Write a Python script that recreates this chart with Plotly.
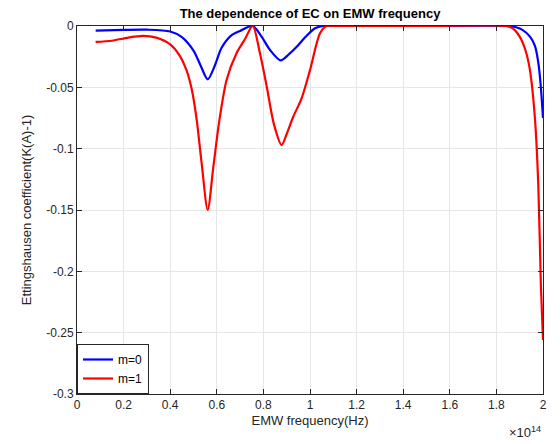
import plotly.graph_objects as go

# frequency in units of 1e14 Hz
x_m0 = [0.08, 0.2, 0.3, 0.4, 0.45, 0.5, 0.53, 0.561, 0.59, 0.62, 0.66, 0.7, 0.754, 0.79, 0.83, 0.874, 0.91, 0.943, 0.98, 1.02, 1.056, 1.1, 1.5, 1.85, 1.88, 1.91, 1.944, 1.965, 1.98, 1.99, 2.0]
y_m0 = [-0.0038, -0.0032, -0.003, -0.0045, -0.009, -0.02, -0.032, -0.0435, -0.033, -0.018, -0.008, -0.004, 0.0, -0.008, -0.02, -0.028, -0.023, -0.017, -0.009, -0.002, 0.0, 0.0, 0.0, 0.0, -0.0008, -0.003, -0.0087, -0.016, -0.03, -0.048, -0.075]

x_m1 = [0.08, 0.15, 0.22, 0.283, 0.34, 0.4, 0.44, 0.47, 0.494, 0.514, 0.535, 0.561, 0.585, 0.611, 0.642, 0.685, 0.72, 0.754, 0.785, 0.814, 0.845, 0.878, 0.9, 0.928, 0.964, 1.0, 1.043, 1.07, 1.1, 1.5, 1.84, 1.87, 1.9, 1.925, 1.944, 1.966, 1.98, 1.991, 2.0]
y_m1 = [-0.013, -0.012, -0.0095, -0.0081, -0.0095, -0.015, -0.024, -0.036, -0.053, -0.077, -0.112, -0.150, -0.115, -0.077, -0.044, -0.022, -0.011, 0.0, -0.022, -0.049, -0.08, -0.097, -0.088, -0.074, -0.059, -0.036, -0.006, 0.0, 0.0, 0.0, 0.0, -0.002, -0.0087, -0.02, -0.036, -0.077, -0.131, -0.212, -0.256]

x_ticks = [0, 0.2, 0.4, 0.6, 0.8, 1, 1.2, 1.4, 1.6, 1.8, 2]
y_ticks = [0, -0.05, -0.1, -0.15, -0.2, -0.25, -0.3]

fig = go.Figure()
fig.add_trace(go.Scatter(x=x_m0, y=y_m0, mode="lines", name="m=0",
                         line=dict(color="#0000ff", width=2.2, shape="spline", smoothing=0.8)))
fig.add_trace(go.Scatter(x=x_m1, y=y_m1, mode="lines", name="m=1",
                         line=dict(color="#ff0000", width=2.2, shape="spline", smoothing=0.8)))

axis_common = dict(showline=True, linecolor="#262626", linewidth=1, mirror="ticks",
                   ticks="inside", ticklen=5, tickcolor="#262626",
                   showgrid=True, gridcolor="#e6e6e6", gridwidth=1, zeroline=False,
                   tickfont=dict(family="Liberation Sans, Arial", size=12, color="#262626"))

fig.update_layout(
    width=560, height=444,
    margin=dict(l=77, r=17, t=26, b=50),
    paper_bgcolor="white", plot_bgcolor="white",
    font=dict(family="Liberation Sans, Arial", color="#262626"),
    title=dict(text="<b>The dependence of EC on EMW frequency</b>", x=0.5, xref="paper",
               xanchor="center", y=1 - 13 / 444, yanchor="middle",
               font=dict(size=13, color="#000000")),
    xaxis=dict(range=[0, 2], tickvals=x_ticks, ticktext=[f"{t:g}" for t in x_ticks],
               title=dict(text="EMW frequency(Hz)", standoff=4, font=dict(size=13, color="#262626")),
               **axis_common),
    yaxis=dict(range=[-0.3, 0], tickvals=y_ticks, ticktext=[f"{t:g}" for t in y_ticks],
               title=dict(text="Ettingshausen coefficient(K(A)-1)", standoff=11, font=dict(size=13, color="#262626")),
               **axis_common),
    legend=dict(x=0, y=0, xanchor="left", yanchor="bottom", bgcolor="white",
                bordercolor="#262626", borderwidth=1, tracegroupgap=0,
                font=dict(size=12, color="#000000"), itemwidth=30),
    showlegend=True,
)
fig.add_annotation(text="×10<sup>14</sup>", xref="paper", yref="paper", x=1.0, y=0,
                   xanchor="right", yanchor="top", yshift=-28, showarrow=False,
                   font=dict(size=13, color="#262626"))

fig.write_html("out.html")
